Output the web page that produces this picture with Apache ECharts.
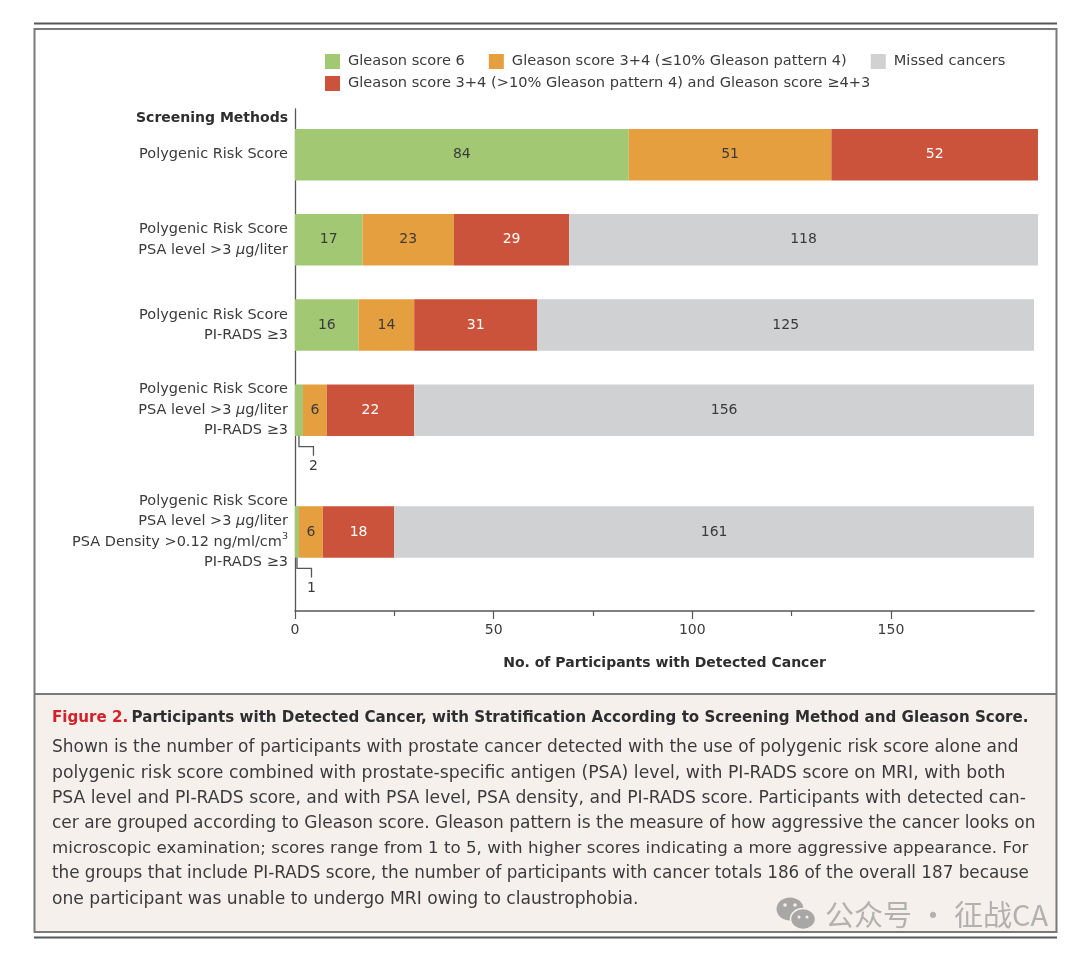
<!DOCTYPE html>
<html><head><meta charset="utf-8">
<style>html,body{margin:0;padding:0;background:#fff}#c{width:1080px;height:957px}</style>
<script src="https://cdn.jsdelivr.net/npm/echarts@6/dist/echarts.min.js"></script>
</head><body><div id="c"></div>
<script>
const methods = [
  '{a|Polygenic Risk Score}',
  '{a|Polygenic Risk Score}\n{a|PSA level >3 }{i|μ}{a|g/liter}',
  '{a|Polygenic Risk Score}\n{a|PI-RADS ≥3}',
  '{a|Polygenic Risk Score}\n{a|PSA level >3 }{i|μ}{a|g/liter}\n{a|PI-RADS ≥3}',
  '{a|Polygenic Risk Score}\n{a|PSA level >3 }{i|μ}{a|g/liter}\n{a|PSA Density >0.12 ng/ml/cm}{s|3}\n{a|PI-RADS ≥3}'
];
const gleason6   = [84, 17, 16, 2, 1];
const gleason34a = [51, 23, 14, 6, 6];
const gleason34b = [52, 29, 31, 22, 18];
const missed     = [0, 118, 125, 156, 161];
const seriesNames = ['Gleason score 6', 'Gleason score 3+4 (≤10% Gleason pattern 4)',
  'Gleason score 3+4 (>10% Gleason pattern 4) and Gleason score ≥4+3', 'Missed cancers'];
const majorTicks = [0, 50, 100, 150];
const minorTicks = [25, 75, 125];
const xTitle = 'No. of Participants with Detected Cancer';
const yTitle = 'Screening Methods';
const captionHead = 'Participants with Detected Cancer, with Stratification According to Screening Method and Gleason Score.';
const captionLines = [
  'Shown is the number of participants with prostate cancer detected with the use of polygenic risk score alone and',
  'polygenic risk score combined with prostate-specific antigen (PSA) level, with PI-RADS score on MRI, with both',
  'PSA level and PI-RADS score, and with PSA level, PSA density, and PI-RADS score. Participants with detected can-',
  'cer are grouped according to Gleason score. Gleason pattern is the measure of how aggressive the cancer looks on',
  'microscopic examination; scores range from 1 to 5, with higher scores indicating a more aggressive appearance. For',
  'the groups that include PI-RADS score, the number of participants with cancer totals 186 of the overall 187 because',
  'one participant was unable to undergo MRI owing to claustrophobia.'
];

const FONT = '"DejaVu Sans"';
const INK = '#3b3b3d';
// The rows are not evenly spaced, so the category axis is divided into fine blank slots.
const slotCount = 166;
const rowSlot = [15, 43, 71, 99, 139];
const slots = Array.from({length: slotCount}, () => '');
rowSlot.forEach((k, i) => { slots[k] = methods[i]; });
const spread = vals => {
  const out = new Array(slotCount).fill(null);
  rowSlot.forEach((k, i) => { out[k] = vals[i]; });
  return out;
};
const colors = ['#a3c873', '#e69f3e', '#cb533b', '#d0d1d3'];
const labelColors = [INK, INK, '#ffffff', INK];
const values = [gleason6, gleason34a, gleason34b, missed];

const bars = values.map((vals, s) => ({
  name: seriesNames[s], type: 'bar', stack: 'all', xAxisIndex: 0, yAxisIndex: 0,
  barWidth: 51.5, clip: false, itemStyle: {color: colors[s]},
  data: spread(vals),
  label: {show: true, position: 'inside', color: labelColors[s], fontFamily: FONT, fontSize: 14,
    formatter: p => p.value > 2 ? String(p.value) : ''},
  emphasis: {disabled: true}
}));

const callouts = {
  type: 'custom', xAxisIndex: 0, yAxisIndex: 0, silent: true, clip: false, z: 5,
  data: [[gleason6[3], rowSlot[3]], [gleason6[4], rowSlot[4]]],
  encode: {x: 0, y: 1},
  renderItem(params, api) {
    const v = api.value(0);
    const p = api.coord([v / 2, api.value(1)]);
    const y0 = p[1] + 25.5, ym = y0 + 11, y1 = y0 + 20, x1 = p[0] + 14.5;
    return {type: 'group', children: [
      {type: 'polyline', shape: {points: [[p[0], y0], [p[0], ym], [x1, ym], [x1, y1]]},
        style: {stroke: '#55575a', lineWidth: 1.3, fill: null}},
      {type: 'text', style: {x: x1, y: y1 + 11, text: String(v), fill: INK, font: '14px ' + FONT, align: 'center', verticalAlign: 'middle'}}
    ]};
  }
};

const box = (x, y, w, h, fill, stroke, lw) => ({type: 'rect', shape: {x, y, width: w, height: h},
  style: {fill: fill, stroke: stroke, lineWidth: lw}, silent: true});
const txt = (x, y, t, font, fill, extra) => ({type: 'text', x, y, silent: true,
  style: Object.assign({text: t, font, fill, verticalAlign: 'middle'}, extra || {})});
const dot = (cx, cy, r, fill) => ({type: 'circle', shape: {cx, cy, r}, style: {fill}, silent: true, z: 2});
const captionFit = [17, 17.25, 17.2, 17, 16.7, 16.8, 17.15];

const graphics = [
  box(34, 694, 1022, 237, '#f5f0ec', null, 0),
  box(34.5, 29, 1022, 903, 'transparent', '#77797b', 2),
  {type: 'line', shape: {x1: 34, y1: 694, x2: 1056, y2: 694}, style: {stroke: '#77797b', lineWidth: 2}, silent: true},
  {type: 'line', shape: {x1: 34, y1: 23.5, x2: 1057, y2: 23.5}, style: {stroke: '#55575a', lineWidth: 2}, silent: true},
  {type: 'line', shape: {x1: 34, y1: 937.5, x2: 1057, y2: 937.5}, style: {stroke: '#55575a', lineWidth: 2}, silent: true},
  txt(288, 118, yTitle, 'bold 14px ' + FONT, '#2e2e30', {align: 'right'}),
  txt(52, 718, '{r|Figure 2.} {b|' + captionHead + '}', '', INK, {rich: {
    r: {font: 'bold 15.1px ' + FONT, fill: '#d2232a'},
    b: {font: 'bold 15.1px ' + FONT, fill: '#2e2e30'}
  }}),
  ...captionLines.map((t, i) => txt(52, 748 + i * 25.2, t, captionFit[i] + 'px ' + FONT, INK)),
  {type: 'ellipse', shape: {cx: 790, cy: 909, rx: 13.5, ry: 11.5}, style: {fill: '#a9a7a5'}, silent: true},
  {type: 'ellipse', shape: {cx: 803, cy: 919, rx: 12.5, ry: 10.5}, style: {fill: '#a9a7a5', stroke: '#f5f0ec', lineWidth: 1.5}, silent: true},
  dot(785, 905, 1.8, '#f5f0ec'), dot(795, 905, 1.8, '#f5f0ec'),
  dot(799, 917, 1.5, '#f5f0ec'), dot(807, 917, 1.5, '#f5f0ec'),
  txt(825, 915, '公众号 · 征战CA', '29px "Noto Sans CJK SC"', '#b3b1af')
];

const legendBase = {orient: 'horizontal', itemWidth: 15, itemHeight: 15, selectedMode: false,
  icon: 'rect', textStyle: {fontFamily: FONT, fontSize: 14.6, color: INK, padding: [1, 0, 0, 3]}};

const chart = echarts.init(document.getElementById('c'));
chart.setOption({
  animation: false, backgroundColor: '#fff',
  grid: {left: 295, right: 46, top: 109, bottom: 346, containLabel: false},
  legend: [
    Object.assign({}, legendBase, {left: 320, top: 49, itemGap: 24, data: [seriesNames[0], seriesNames[1], seriesNames[3]]}),
    Object.assign({}, legendBase, {left: 320, top: 71, data: [seriesNames[2]]})
  ],
  xAxis: [{
    type: 'value', min: 0, max: 186, position: 'bottom',
    name: xTitle, nameLocation: 'middle', nameGap: 45,
    nameTextStyle: {fontFamily: FONT, fontWeight: 'bold', fontSize: 14, color: '#2e2e30'},
    axisLine: {show: true, onZero: false, lineStyle: {color: '#55575a', width: 1.5}},
    axisTick: {show: true, length: 8, customValues: majorTicks, lineStyle: {color: '#55575a', width: 1.2}},
    axisLabel: {show: true, customValues: majorTicks, margin: 12, fontFamily: FONT, fontSize: 14, color: INK},
    splitLine: {show: false}
  }, {
    type: 'value', min: 0, max: 186, position: 'bottom',
    axisLine: {show: false},
    axisTick: {show: true, length: 5, customValues: minorTicks, lineStyle: {color: '#55575a', width: 1.2}},
    axisLabel: {show: false}, splitLine: {show: false}
  }],
  yAxis: {
    type: 'category', inverse: true, boundaryGap: false, data: slots,
    axisLine: {show: true, onZero: false, lineStyle: {color: '#55575a', width: 1.3}},
    axisTick: {show: false}, splitLine: {show: false},
    axisLabel: {
      show: true, interval: 0, margin: 7, align: 'right', hideOverlap: false,
      rich: {
        a: {fontFamily: FONT, fontSize: 14.5, color: INK, lineHeight: 20.5, align: 'right'},
        i: {fontFamily: FONT, fontStyle: 'italic', fontSize: 14.5, color: INK, lineHeight: 20.5},
        s: {fontFamily: FONT, fontSize: 9.5, color: INK, lineHeight: 20.5, verticalAlign: 'top', padding: [0, 0, 5, 0]}
      }
    }
  },
  tooltip: {show: false},
  series: [...bars, callouts],
  graphic: {elements: graphics}
});
</script></body></html>
